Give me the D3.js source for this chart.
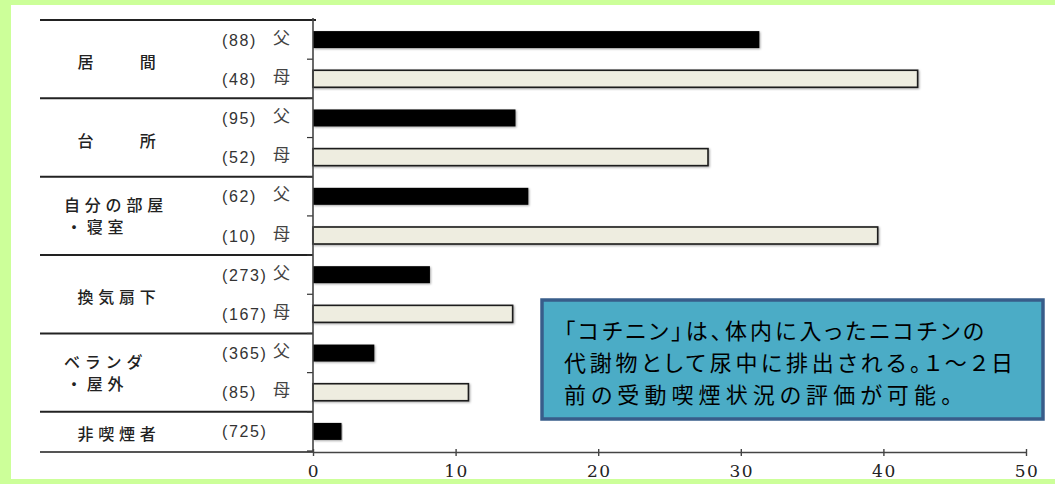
<!DOCTYPE html>
<html>
<head>
<meta charset="utf-8">
<script src="https://cdn.jsdelivr.net/npm/d3@7"></script>
<style>
  html, body { margin: 0; padding: 0; background: #ccff99; }
  svg { display: block; }
  .note { font-feature-settings: "palt"; }
  .xlab { font-family: 'DejaVu Serif', 'Liberation Serif', serif; font-size: 17px; letter-spacing: 1.5px; }
</style>
</head>
<body>
<div id="chart"></div>
<script>
// data
const groupNames = [["居　　間"], ["台　　所"], ["自分の部屋", "・寝室"], ["換気扇下"], ["ベランダ", "・屋外"], ["非喫煙者"]];
const fatherN = [88, 95, 62, 273, 365];
const motherN = [48, 52, 10, 167, 85];
const fatherVals = [31.3, 14.2, 15.1, 8.2, 4.3];
const motherVals = [42.4, 27.7, 39.6, 14.0, 10.9];
const nonSmokerN = 725;
const nonSmokerVal = 2.0;
const xTicks = [0, 10, 20, 30, 40, 50];
const noteLines = ["「コチニン」は、体内に入ったニコチンの", "代謝物として尿中に排出される。１～２日", "前の受動喫煙状況の評価が可能。"];

// build the rows (father, mother per place, then non-smoker)
var rows = [];
fatherN.forEach(function(n, i) {
  rows.push({id: "f" + i, group: i, n: n, who: "父", v: fatherVals[i], dark: true});
  rows.push({id: "m" + i, group: i, n: motherN[i], who: "母", v: motherVals[i], dark: false});
});
rows.push({id: "ns", group: 5, n: nonSmokerN, who: "", v: nonSmokerVal, dark: true});

var W = 1055, H = 484;
var svg = d3.select("#chart").append("svg")
  .attr("width", W)
  .attr("height", H);

// white panel on the green page
svg.append("rect")
  .attr("x", 11).attr("y", 5)
  .attr("width", W - 11).attr("height", 474)
  .attr("fill", "#ffffff");

var defs = svg.append("defs");
var f = defs.append("filter").attr("id", "shadow")
  .attr("x", "-5%").attr("y", "-30%").attr("width", "110%").attr("height", "160%");
f.append("feDropShadow").attr("dx", 1).attr("dy", 1).attr("stdDeviation", 1)
  .attr("flood-color", "#000").attr("flood-opacity", 0.35);

// scales
var x = d3.scaleLinear().domain([0, 50]).range([313, 1026]);
var y = d3.scaleBand().domain(rows.map(function(d) { return d.id; }))
  .range([20, 451]).paddingInner(0).paddingOuter(0);

var barH = 17;

// bars
svg.selectAll(".bar")
  .data(rows)
  .enter().append("rect")
  .attr("class", "bar")
  .attr("x", x(0))
  .attr("y", function(d) { return y(d.id) + y.bandwidth() / 2 - barH / 2; })
  .attr("width", function(d) { return x(d.v) - x(0); })
  .attr("height", barH)
  .attr("fill", function(d) { return d.dark ? "#000" : "#eeede0"; })
  .attr("stroke", function(d) { return d.dark ? "none" : "#1a1a1a"; })
  .attr("stroke-width", 1.6)
  .attr("filter", "url(#shadow)");

// group separator lines
var groupIdx = d3.range(6);
function groupTop(g) {
  var r = rows.filter(function(d) { return d.group === g; });
  return y(r[0].id);
}
function groupBottom(g) {
  var r = rows.filter(function(d) { return d.group === g; });
  return y(r[r.length - 1].id) + y.bandwidth();
}
svg.selectAll(".gline")
  .data(groupIdx)
  .enter().append("line")
  .attr("x1", 40).attr("x2", function(g) { return g === 0 ? 316 : x(0); })
  .attr("y1", function(g) { return groupTop(g); })
  .attr("y2", function(g) { return groupTop(g); })
  .attr("stroke", "#222").attr("stroke-width", 2);
svg.append("line")
  .attr("x1", 40).attr("x2", x(0))
  .attr("y1", 452).attr("y2", 452)
  .attr("stroke", "#555").attr("stroke-width", 2);

// small ticks at row boundaries
svg.selectAll(".rtick")
  .data(rows)
  .enter().append("line")
  .attr("x1", 307).attr("x2", x(0))
  .attr("y1", function(d) { return y(d.id) + y.bandwidth(); })
  .attr("y2", function(d) { return y(d.id) + y.bandwidth(); })
  .attr("stroke", "#333").attr("stroke-width", 1.2);

// y axis line
svg.append("line")
  .attr("x1", x(0)).attr("x2", x(0))
  .attr("y1", 18).attr("y2", 452)
  .attr("stroke", "#444").attr("stroke-width", 1.6);

// x axis (line and ticks from d3, labels drawn separately)
var xAxis = svg.append("g")
  .attr("transform", "translate(0,452)")
  .call(d3.axisBottom(x).tickValues(xTicks).tickSize(0).tickFormat(""));
xAxis.select(".domain").attr("stroke", "#444").attr("stroke-width", 1.6);
xAxis.selectAll(".tick line").remove();
xAxis.selectAll(".tick text").remove();
xAxis.selectAll(".tick").append("line")
  .attr("y1", -3).attr("y2", 4)
  .attr("stroke", "#444").attr("stroke-width", 1.4);

svg.selectAll(".xlab")
  .data(xTicks)
  .enter().append("text")
  .attr("class", "xlab")
  .attr("x", function(d) { return x(d) + 1; })
  .attr("y", 477)
  .attr("text-anchor", "middle")
  .attr("fill", "#222")
  .text(function(d) { return d; });

// category labels
var cjk = "'Noto Sans CJK JP', 'Noto Sans', sans-serif";
groupIdx.forEach(function(g) {
  var lines = groupNames[g];
  var mid = (groupTop(g) + groupBottom(g)) / 2;
  var t = svg.append("text")
    .attr("font-family", cjk)
    .attr("font-size", 16)
    .attr("font-weight", 500)
    .attr("letter-spacing", 4.8)
    .attr("fill", "#222");
  if (lines.length > 1) {
    t.attr("text-anchor", "start");
    lines.forEach(function(l, i) {
      t.append("tspan").attr("x", i === 0 ? 64 : 66)
        .attr("y", mid + 6 + (i - 0.5) * 22)
        .text(l);
    });
  } else {
    t.attr("text-anchor", "middle")
      .attr("x", 119)
      .attr("y", mid + 9)
      .text(lines[0]);
  }
});

// counts and 父/母
svg.selectAll(".nlab")
  .data(rows)
  .enter().append("text")
  .attr("x", 222)
  .attr("y", function(d) { return y(d.id) + y.bandwidth() / 2 + 6; })
  .attr("font-family", "'Liberation Sans', Arial, sans-serif")
  .attr("font-size", 16)
  .attr("letter-spacing", 1.6)
  .attr("fill", "#333")
  .text(function(d) { return "(" + d.n + ")"; });
svg.selectAll(".wlab")
  .data(rows.filter(function(d) { return d.who; }))
  .enter().append("text")
  .attr("x", 273)
  .attr("y", function(d) { return y(d.id) + y.bandwidth() / 2 + 4; })
  .attr("font-family", cjk)
  .attr("font-size", 17)
  .attr("fill", "#444")
  .text(function(d) { return d.who; });

// note box
svg.append("rect")
  .attr("x", 542).attr("y", 300)
  .attr("width", 501).attr("height", 119)
  .attr("fill", "#4bacc6")
  .attr("stroke", "#385d8a")
  .attr("stroke-width", 3.5);
var noteWidths = [420, 449, 388];
svg.selectAll(".note")
  .data(noteLines)
  .enter().append("text")
  .attr("class", "note")
  .attr("x", 564)
  .attr("y", function(d, i) { return 339 + i * 32; })
  .attr("font-family", cjk)
  .attr("font-size", 22)
  .attr("fill", "#000")
  .attr("textLength", function(d, i) { return noteWidths[i]; })
  .attr("lengthAdjust", "spacing")
  .text(function(d) { return d; });
</script>
</body>
</html>
